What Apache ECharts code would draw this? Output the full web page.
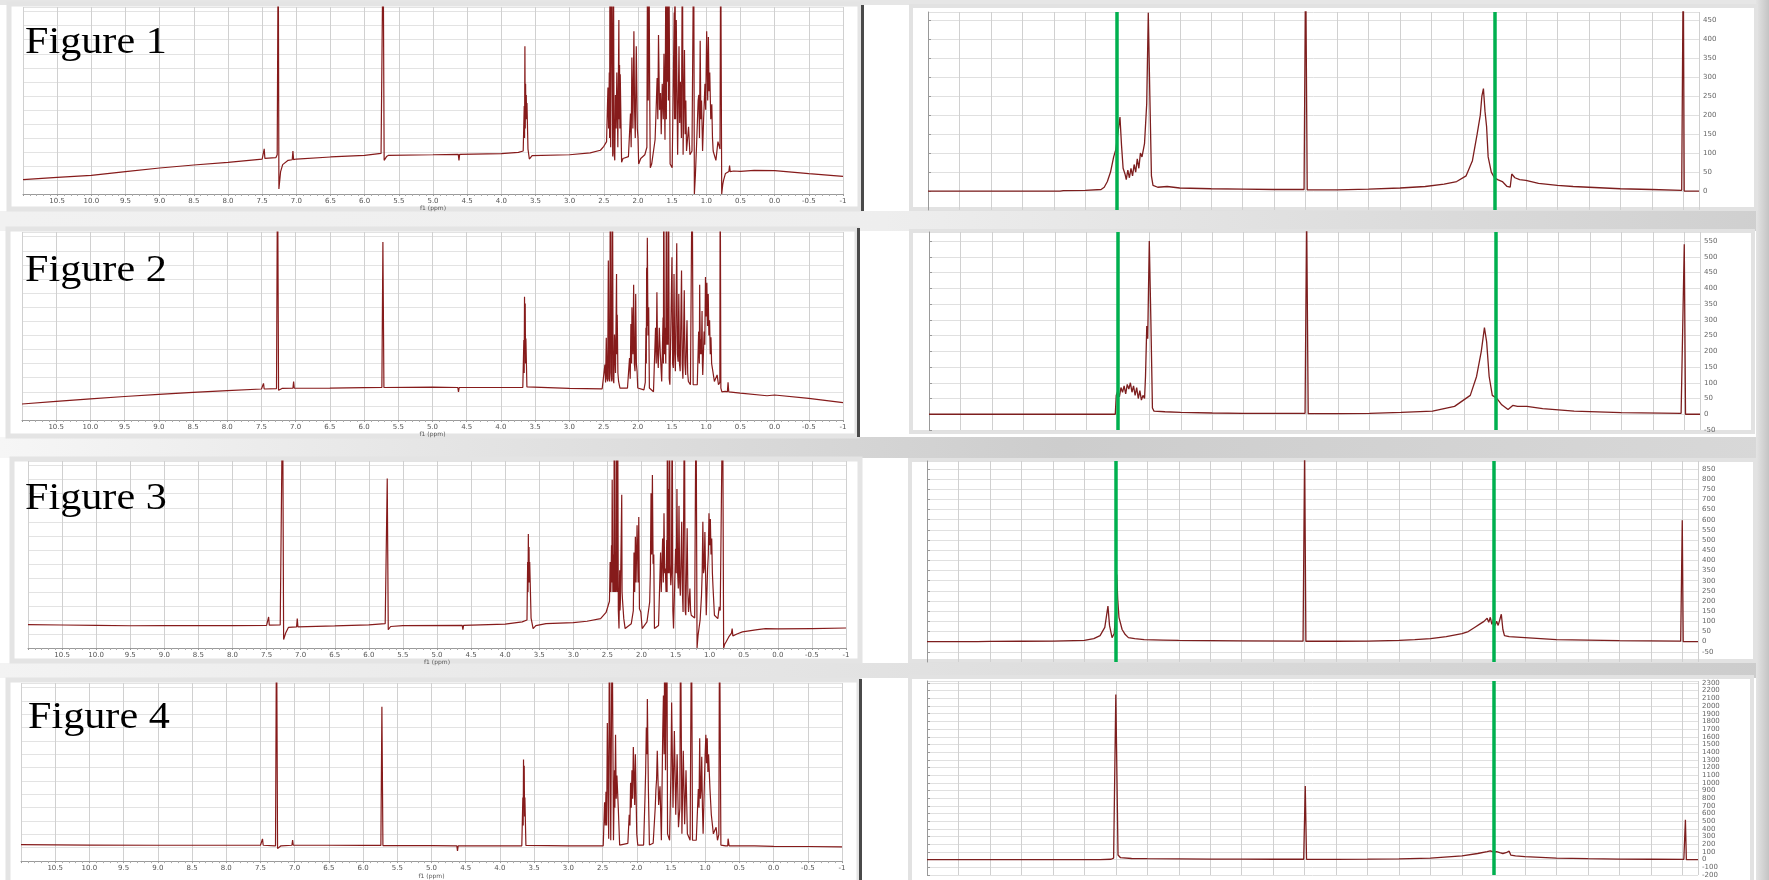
<!DOCTYPE html>
<html><head><meta charset="utf-8">
<script src="https://cdn.jsdelivr.net/npm/echarts@6/dist/echarts.min.js"></script>
<style>html,body{margin:0;padding:0;background:#fff}#c{width:1769px;height:880px}</style>
</head><body><div id="c"></div>
<script>
// ---------- DATA ----------
const figureLabels = ['Figure 1', 'Figure 2', 'Figure 3', 'Figure 4'];
const ppmAxisName = 'f1 (ppm)';

// 1H spectra (left): [ppm, relative intensity], values above 100 run off the top of the plot
const spectrum1 = [[11.0,7.7],[10.5,8.9],[10.0,10.0],[9.5,12.0],[9.0,13.9],[8.5,15.5],[8.0,16.9],[7.5,18.7],[7.48,19],[7.47,24.2],[7.46,19],[7.3,19.4],[7.28,21],[7.265,140],[7.255,2.7],[7.23,12],[7.2,15.7],[7.12,18],[7.06,18.3],[7.05,23],[7.04,18.4],[7.0,18.7],[6.5,19.8],[6.0,20.7],[5.76,21.7],[5.73,140],[5.715,18],[5.68,20],[5.65,20.7],[5.0,21],[4.63,21.2],[4.62,18],[4.61,21.2],[4.0,21.6],[3.75,22.3],[3.68,23],[3.665,47],[3.66,30],[3.655,79],[3.65,35],[3.645,59],[3.64,40],[3.635,53],[3.63,40],[3.625,48.7],[3.61,24],[3.59,18.7],[3.55,20.5],[3.0,21],[2.7,22],[2.55,23.4],
[2.5,25.5],[2.46,28],[2.44,57],[2.43,35],[2.42,65],[2.415,30],[2.41,140],[2.40,25],[2.39,140],[2.37,20],[2.36,140],[2.35,22],[2.34,18],[2.33,53],[2.32,35],[2.31,65],[2.295,25],[2.28,93],[2.275,40],[2.27,69],[2.265,35],[2.26,64],[2.24,17],[2.22,19],[2.14,20],[2.11,43],[2.10,25],[2.09,73],[2.075,35],[2.06,87],[2.05,45],[2.04,30],[2.025,79],[2.01,35],[2.0,30],[1.99,16],[1.96,19],[1.90,21],[1.87,25],[1.86,140],[1.85,50],[1.84,140],[1.83,60],[1.82,14],[1.80,16],[1.75,29],[1.735,45],[1.72,62],[1.71,40],[1.70,85],[1.685,45],[1.67,54],[1.66,32],[1.645,59],[1.63,40],[1.62,75],[1.605,29],[1.59,140],[1.585,40],[1.58,140],[1.57,60],[1.56,140],[1.555,50],[1.55,140],[1.53,16],[1.50,14],[1.47,97],[1.465,40],[1.46,140],[1.45,40],[1.44,93],[1.42,21],[1.40,79],[1.39,38],[1.38,60],[1.365,30],[1.35,140],[1.34,21],[1.32,77],[1.31,32],[1.30,50],[1.29,23],[1.26,36],[1.24,21],[1.21,23],[1.185,140],[1.175,0],[1.16,10],[1.14,29],[1.12,50],[1.11,53],[1.10,30],[1.09,82],[1.08,40],[1.07,50],[1.055,23],[1.04,40],[1.02,59],[1.01,45],[0.995,87],[0.98,50],[0.97,84],[0.96,55],[0.95,65],[0.935,40],[0.92,48],[0.91,30],[0.90,23],[0.86,18],[0.83,28],[0.81,27],[0.80,24],[0.79,140],[0.775,0],[0.76,5],[0.75,7],[0.72,11],[0.70,11.6],[0.67,12],[0.66,15.2],[0.65,12],[0.6,12.3],[0.5,12.1],[0.3,12.6],[0.0,12.5],[-0.5,10.9],[-1.0,9.4]];

const spectrum2 = [[11.0,8.5],[10.5,9.9],[10.0,11.2],[9.5,12.5],[9.0,13.6],[8.5,14.7],[8.0,15.6],[7.5,16.5],[7.48,16.5],[7.47,19.5],[7.46,16.5],[7.28,16.7],[7.265,140],[7.25,15.8],[7.2,16.8],[7.04,16.9],[7.03,20.4],[7.02,16.9],[6.5,17],[6.0,17.2],[5.74,17.3],[5.725,94.7],[5.71,17.3],[5.0,17.5],[4.63,17.3],[4.62,15],[4.61,17.3],[4.0,17.3],[3.68,17.3],[3.665,42.5],[3.66,25],[3.655,65.5],[3.65,35],[3.645,62],[3.64,30],[3.635,43.4],[3.62,17.6],[3.6,16.9],[3.0,16.8],[2.52,16.6],
[2.48,29.5],[2.47,20],[2.46,43.8],[2.45,22],[2.44,20.5],[2.43,84.8],[2.42,22],[2.41,20.5],[2.40,140],[2.39,25],[2.38,20.5],[2.37,140],[2.36,22],[2.35,19.6],[2.34,45.5],[2.325,25],[2.31,77.7],[2.305,35],[2.30,56],[2.29,25],[2.28,20.5],[2.26,17],[2.15,17],[2.12,33],[2.11,22],[2.10,51],[2.09,30],[2.085,60],[2.07,35],[2.06,72],[2.05,30],[2.04,26],[2.03,67],[2.02,30],[2.01,26],[2.0,17],[1.91,16],[1.89,20],[1.88,49],[1.875,30],[1.87,81],[1.865,50],[1.86,97],[1.85,45],[1.84,60],[1.83,17],[1.77,15],[1.74,49],[1.73,30],[1.72,68],[1.71,35],[1.70,27.7],[1.685,49],[1.67,35],[1.65,20.5],[1.63,54.5],[1.625,30],[1.62,140],[1.61,35],[1.60,49],[1.59,30],[1.58,140],[1.575,40],[1.57,58],[1.56,40],[1.55,140],[1.54,22],[1.53,18.75],[1.51,18.75],[1.50,86.6],[1.49,30],[1.48,27.7],[1.47,77.7],[1.46,35],[1.45,26],[1.43,94],[1.42,35],[1.41,31],[1.40,67],[1.39,30],[1.38,26],[1.36,79.5],[1.35,30],[1.34,22],[1.32,69],[1.31,30],[1.30,24],[1.28,53],[1.27,25],[1.26,20.5],[1.23,18.75],[1.205,140],[1.19,18.75],[1.13,18.75],[1.11,47],[1.10,30],[1.095,72],[1.085,35],[1.08,43],[1.07,35],[1.06,58],[1.055,30],[1.05,24],[1.03,47],[1.02,40],[1.01,76],[1.0,55],[0.99,73],[0.98,50],[0.97,67],[0.96,45],[0.95,53],[0.94,35],[0.93,44],[0.92,30],[0.91,27.7],[0.88,20.5],[0.84,24],[0.82,18.75],[0.80,20],[0.795,140],[0.785,17],[0.77,15],[0.72,15.2],[0.69,15],[0.68,20],[0.67,15],[0.5,14.3],[0.11,12.9],[0.0,13.3],[-0.5,11.5],[-1.0,9.2]];

const spectrum3 = [[11.0,12.5],[10.5,12.3],[10.0,12.1],[9.5,11.9],[9.0,12],[8.5,12],[8.0,12],[7.5,12.1],[7.48,12.2],[7.47,16.6],[7.46,12.2],[7.3,12.3],[7.28,13],[7.265,140],[7.25,4.5],[7.22,8],[7.18,11],[7.06,11.3],[7.05,15.7],[7.04,11.3],[6.5,11.8],[6.0,12.4],[5.76,13],[5.73,90.7],[5.715,9.8],[5.68,11.5],[5.5,12],[4.63,12.1],[4.62,9.8],[4.61,12.1],[4.0,12.8],[3.75,14],[3.68,15],[3.67,46],[3.665,30],[3.66,61],[3.655,35],[3.65,54],[3.645,35],[3.64,46],[3.62,16],[3.59,10.4],[3.55,12],[3.4,13],[3.0,13.6],[2.8,14.3],[2.6,15.7],[2.52,19],
[2.50,20],[2.47,25],[2.46,46],[2.45,30],[2.44,55],[2.435,35],[2.43,90],[2.42,30],[2.41,50],[2.405,30],[2.40,140],[2.39,30],[2.38,51],[2.375,30],[2.37,140],[2.365,35],[2.355,30],[2.35,140],[2.34,20],[2.33,10.4],[2.32,41.6],[2.315,20],[2.31,24.6],[2.29,82],[2.285,30],[2.28,26.4],[2.26,15.7],[2.24,10.4],[2.15,13],[2.12,20],[2.11,51],[2.10,30],[2.09,59.5],[2.08,35],[2.065,65.7],[2.05,35],[2.04,70],[2.03,21],[2.01,19.3],[1.99,10.4],[1.92,14],[1.88,24.6],[1.87,40],[1.86,82.7],[1.85,50],[1.84,92.5],[1.83,45],[1.82,50],[1.81,10.4],[1.75,12],[1.72,51],[1.71,30],[1.69,58.6],[1.68,35],[1.67,72],[1.66,40],[1.65,42.5],[1.64,30],[1.63,57.7],[1.625,30],[1.62,140],[1.61,40],[1.60,85],[1.595,40],[1.59,140],[1.58,45],[1.57,33.6],[1.56,40],[1.55,140],[1.54,20],[1.53,10.4],[1.51,9.5],[1.50,53],[1.49,40],[1.48,85],[1.47,40],[1.46,31.8],[1.45,76],[1.44,35],[1.43,28],[1.41,67.5],[1.40,30],[1.39,19.3],[1.37,140],[1.36,20],[1.35,17.5],[1.33,64],[1.32,30],[1.31,19.3],[1.29,31.8],[1.28,20],[1.27,17.5],[1.22,16],[1.20,140],[1.185,0],[1.17,6.8],[1.14,15],[1.12,28],[1.11,40],[1.10,67.5],[1.09,40],[1.08,42.5],[1.07,62],[1.06,40],[1.05,17.5],[1.04,30],[1.03,42.5],[1.02,50],[1.01,72],[1.0,55],[0.99,69],[0.98,50],[0.97,58.6],[0.96,40],[0.95,31.8],[0.93,17.5],[0.88,15.7],[0.86,22],[0.845,20],[0.83,21],[0.81,140],[0.795,0],[0.78,2],[0.76,3.2],[0.72,5.9],[0.68,8],[0.67,10.4],[0.66,6.5],[0.6,7.5],[0.52,8.6],[0.3,9.8],[0.18,10.4],[0.0,10.2],[-0.5,10.4],[-1.0,10.7]];

const spectrum4 = [[11.0,9.3],[10.5,9.1],[10.0,9.0],[9.0,8.9],[8.0,8.9],[7.5,8.9],[7.48,8.9],[7.47,12.5],[7.46,8.9],[7.28,8.6],[7.265,140],[7.25,7.1],[7.2,8.6],[7.04,8.9],[7.03,11.8],[7.02,8.9],[6.5,8.9],[6.0,8.8],[5.74,8.8],[5.725,86.6],[5.71,8.7],[5.0,8.7],[4.63,8.6],[4.62,5.7],[4.61,8.6],[4.0,8.6],[3.68,8.6],[3.665,35.7],[3.66,20],[3.655,57],[3.65,30],[3.645,53.6],[3.64,25],[3.635,35.7],[3.62,8.8],[3.6,8.5],[3.0,8.5],[2.52,8.6],
[2.49,8.6],[2.47,33],[2.46,20],[2.45,39],[2.44,20],[2.43,77.5],[2.41,12.6],[2.40,140],[2.38,11.7],[2.36,140],[2.34,11.7],[2.325,51],[2.32,30],[2.31,71],[2.30,35],[2.29,48],[2.27,30],[2.25,9],[2.13,10],[2.11,26],[2.10,20],[2.09,44],[2.08,30],[2.07,51],[2.06,35],[2.05,64],[2.03,31.5],[2.02,60],[2.0,15.3],[1.985,9],[1.90,9],[1.88,35],[1.87,50],[1.86,75],[1.85,60],[1.845,91],[1.83,40.5],[1.815,9],[1.76,10],[1.73,30],[1.72,40],[1.71,46],[1.70,62],[1.68,31.5],[1.66,42],[1.64,11.7],[1.62,73],[1.61,93],[1.60,60],[1.59,140],[1.58,51],[1.56,140],[1.55,15.3],[1.52,11.7],[1.50,51],[1.49,89],[1.47,30],[1.45,73],[1.43,26],[1.41,60],[1.39,19],[1.37,30],[1.36,140],[1.34,15.3],[1.32,62],[1.30,20.7],[1.28,51],[1.26,15.3],[1.22,11.7],[1.20,140],[1.185,11.7],[1.13,11.7],[1.10,40.5],[1.09,30],[1.08,69],[1.07,35],[1.06,40],[1.05,58.6],[1.04,30],[1.03,15.3],[1.01,46],[1.0,60],[0.99,71],[0.98,55],[0.97,69],[0.96,50],[0.95,60],[0.93,40.5],[0.91,26],[0.88,15.3],[0.84,19],[0.82,11.7],[0.80,15],[0.79,140],[0.77,9],[0.70,8.6],[0.67,8.6],[0.665,12.6],[0.65,8.6],[0.28,8.5],[0.0,8.3],[-0.5,8.2],[-1.0,8.0]];

// right-hand traces: [position, signal]
const trace1 = [[0,0],[4.2,0],[4.3,1],[5.0,2],[5.5,4],[5.6,10],[5.7,25],[5.8,50],[5.9,90],[5.97,110],[6.03,150],[6.1,195],[6.15,120],[6.2,60],[6.26,45],[6.3,30],[6.35,55],[6.4,35],[6.45,60],[6.5,40],[6.55,70],[6.6,50],[6.65,85],[6.7,60],[6.75,100],[6.8,90],[6.88,125],[6.95,230],[7.0,470],[7.05,250],[7.1,40],[7.15,15],[7.3,10],[7.6,12],[8.0,8],[9,6],[10,5],[11,4],[11.95,4],[12,620],[12.05,3],[13,3],[14,5],[15,8],[15.8,12],[16.4,18],[16.8,25],[17.1,40],[17.3,80],[17.45,150],[17.55,200],[17.6,250],[17.65,270],[17.7,210],[17.75,170],[17.8,90],[17.9,50],[18.0,35],[18.1,30],[18.25,25],[18.4,12],[18.5,10],[18.55,45],[18.65,35],[18.8,30],[19,28],[19.4,20],[20,15],[20.5,12],[21,10],[22,6],[23,4],[23.95,2],[24.0,620],[24.03,0],[24.5,0]];
const trace2 = [[0,0],[5.92,0],[5.95,60],[6.0,75],[6.05,55],[6.1,85],[6.15,70],[6.2,90],[6.25,65],[6.3,95],[6.35,80],[6.4,100],[6.45,70],[6.5,90],[6.55,60],[6.6,85],[6.65,50],[6.7,75],[6.75,45],[6.8,60],[6.85,50],[6.88,120],[6.92,280],[6.95,240],[7.0,550],[7.05,300],[7.1,20],[7.15,10],[7.5,8],[8,6],[9,4],[10,3],[11.95,3],[12,640],[12.05,2],[13,2],[14,3],[15,6],[16,10],[16.7,25],[17.2,60],[17.4,120],[17.55,200],[17.65,275],[17.72,230],[17.8,120],[17.9,60],[18.05,50],[18.2,30],[18.4,15],[18.55,28],[18.7,25],[19,25],[19.5,18],[20.5,10],[22,5],[23.9,3],[24.0,540],[24.04,0],[24.5,0]];
const trace3 = [[0,0],[1.6,0],[2,1],[3,2],[4,3],[5,6],[5.3,15],[5.5,30],[5.65,70],[5.75,175],[5.8,80],[5.88,20],[5.95,40],[6.0,160],[6.03,330],[6.06,210],[6.1,120],[6.2,60],[6.3,35],[6.4,20],[6.6,15],[6.9,10],[7.5,8],[8,6],[9,5],[10,4],[11.95,3],[12.0,950],[12.04,2],[13,2],[14,3],[15,6],[15.5,10],[16,15],[16.5,25],[17,40],[17.2,50],[17.4,70],[17.6,90],[17.7,100],[17.8,115],[17.85,95],[17.9,120],[17.95,85],[18.0,110],[18.05,80],[18.1,100],[18.15,80],[18.25,135],[18.3,60],[18.35,30],[18.5,25],[19,20],[20,10],[21,8],[22,5],[23.95,3],[24.0,597],[24.03,0],[24.5,0]];
const trace4 = [[0,0],[5.5,0],[5.85,5],[5.93,20],[6.0,2150],[6.07,60],[6.15,25],[6.5,15],[7,12],[8,10],[9,8],[10,6],[11,5],[11.97,5],[12.02,960],[12.06,4],[13,4],[14,6],[15,10],[16,20],[17,50],[17.5,80],[17.8,105],[17.9,115],[18.0,100],[18.1,105],[18.2,90],[18.3,80],[18.4,90],[18.5,110],[18.55,60],[18.7,50],[19,40],[20,20],[21,12],[22,8],[23,5],[24.05,4],[24.1,520],[24.13,0],[24.5,0]];

const greenLines = [[6, 18], [6, 18], [6, 18], [18]];
const traceScales = [[-50, 472, 50], [-50, 579, 50], [-100, 889, 50], [-200, 2326, 100]];
const showLowestLabel = [false, true, false, true];

// ---------- LAYOUT ----------
const spectra = [spectrum1, spectrum2, spectrum3, spectrum4];
const traces = [trace1, trace2, trace3, trace4];
const leftGrids = [
  {left: 23, top: 7, width: 820, height: 187},
  {left: 22, top: 232, width: 821, height: 188},
  {left: 28, top: 461, width: 818, height: 187},
  {left: 21, top: 683, width: 821, height: 187}
];
const rightGrids = [
  {left: 928, top: 12, width: 771, height: 198},
  {left: 929, top: 232, width: 771, height: 198},
  {left: 927, top: 461, width: 771, height: 201},
  {left: 927, top: 681, width: 771, height: 194}
];
const labelPos = [[25, 25], [25, 253], [25, 481], [28, 700]];

const LINE = '#861b1b';
const grid = [], xAxis = [], yAxis = [], series = [];

leftGrids.forEach((g, i) => {
  grid.push(Object.assign({containLabel: false}, g));
  xAxis.push({
    gridIndex: grid.length - 1, type: 'value', min: -1, max: 11, interval: 0.5, inverse: true,
    axisLine: {show: true, lineStyle: {color: '#9a9a9a', width: 1}},
    axisTick: {show: true, length: 2, lineStyle: {color: '#999'}},
    minorTick: {show: true, splitNumber: 5, length: 2, lineStyle: {color: '#aaa'}},
    axisLabel: {fontSize: 7, color: '#555', margin: 4, fontFamily: 'DejaVu Sans', showMaxLabel: false,
      formatter: v => (Math.abs(v + 1) < 1e-9 ? '-1' : v.toFixed(1))},
    splitLine: {show: true, lineStyle: {color: '#d0d0d0', width: 1}},
    name: ppmAxisName, nameLocation: 'middle', nameGap: 9,
    nameTextStyle: {fontSize: 6, color: '#555', fontFamily: 'DejaVu Sans'}
  });
  yAxis.push({
    gridIndex: grid.length - 1, type: 'value', min: 0, max: 100, interval: 7.5,
    axisLine: {show: false}, axisTick: {show: false}, axisLabel: {show: false},
    splitLine: {show: true, lineStyle: {color: '#e3e3e3', width: 1}}
  });
  series.push({
    type: 'line', xAxisIndex: grid.length - 1, yAxisIndex: grid.length - 1,
    data: spectra[i], showSymbol: false, symbol: 'none', clip: true, silent: true,
    lineStyle: {color: LINE, width: 1.2}, z: 3
  });
});

rightGrids.forEach((g, i) => {
  grid.push(Object.assign({containLabel: false}, g));
  const [mn, mx, step] = traceScales[i];
  xAxis.push({
    gridIndex: grid.length - 1, type: 'value', min: 0, max: 24.5, interval: 1,
    axisLine: {show: false}, axisTick: {show: false}, axisLabel: {show: false},
    splitLine: {show: true, lineStyle: {color: '#d0d0d0', width: 1}}
  });
  yAxis.push({
    gridIndex: grid.length - 1, type: 'value', position: 'right', min: mn, max: mx, interval: step,
    axisLine: {show: true, lineStyle: {color: '#999', width: 1}},
    axisTick: {show: true, length: 3, lineStyle: {color: '#999'}},
    axisLabel: {fontSize: 7, color: '#666', margin: 4, fontFamily: 'DejaVu Sans',
      showMaxLabel: false, showMinLabel: showLowestLabel[i], formatter: v => String(v)},
    splitLine: {show: true, lineStyle: {color: '#e0e0e0', width: 1}}
  });
  series.push({
    type: 'line', xAxisIndex: grid.length - 1, yAxisIndex: grid.length - 1,
    data: traces[i], showSymbol: false, symbol: 'none', clip: true, silent: true,
    lineStyle: {color: '#7d1e1e', width: 1.3}, z: 3,
    markLine: {
      symbol: 'none', silent: true, label: {show: false}, animation: false,
      lineStyle: {color: '#00b04f', width: 3.5, type: 'solid'},
      data: greenLines[i].map(v => ({xAxis: v}))
    }
  });
});

// panel frames and page shading
const graphics = [
  {type: 'rect', shape: {x: 0, y: 0, width: 1769, height: 5}, style: {fill: '#e6e6e6'}, z: -5},
  {type: 'rect', shape: {x: 0, y: 211, width: 1769, height: 20},
    style: {fill: new echarts.graphic.LinearGradient(0, 0, 1, 0, [{offset: 0, color: '#f1f1f1'}, {offset: 0.5, color: '#eeeeee'}, {offset: 1, color: '#cfcfcf'}])}, z: -5},
  {type: 'rect', shape: {x: 0, y: 437, width: 1769, height: 21},
    style: {fill: new echarts.graphic.LinearGradient(0, 0, 1, 0, [{offset: 0, color: '#f6f6f6'}, {offset: 0.6, color: '#cdcdcd'}, {offset: 1, color: '#d8d8d8'}])}, z: -5},
  {type: 'rect', shape: {x: 0, y: 663, width: 1769, height: 15},
    style: {fill: new echarts.graphic.LinearGradient(0, 0, 1, 0, [{offset: 0, color: '#f3f3f3'}, {offset: 0.5, color: '#e2e2e2'}, {offset: 1, color: '#cccccc'}])}, z: -5},
  {type: 'rect', shape: {x: 1756, y: 0, width: 13, height: 880},
    style: {fill: new echarts.graphic.LinearGradient(0, 0, 1, 0, [{offset: 0, color: '#e4e4e4'}, {offset: 1, color: '#c4c4c4'}])}, z: -5},
  {type: 'rect', shape: {x: 9, y: 4, width: 851, height: 205}, style: {fill: 'none', stroke: '#e4e4e4', lineWidth: 5}, z: -4},
  {type: 'rect', shape: {x: 8, y: 229, width: 849, height: 207}, style: {fill: 'none', stroke: '#e4e4e4', lineWidth: 5}, z: -4},
  {type: 'rect', shape: {x: 12, y: 459, width: 848, height: 202}, style: {fill: 'none', stroke: '#e4e4e4', lineWidth: 5}, z: -4},
  {type: 'rect', shape: {x: 8, y: 680, width: 851, height: 205}, style: {fill: 'none', stroke: '#e4e4e4', lineWidth: 5}, z: -4},
  {type: 'rect', shape: {x: 861, y: 5, width: 3, height: 206}, style: {fill: '#4a4a4a'}, z: -3},
  {type: 'rect', shape: {x: 857, y: 228, width: 3, height: 209}, style: {fill: '#4a4a4a'}, z: -3},
  {type: 'rect', shape: {x: 859, y: 679, width: 3, height: 201}, style: {fill: '#4a4a4a'}, z: -3},
  {type: 'rect', shape: {x: 911, y: 6, width: 845, height: 203}, style: {fill: 'none', stroke: '#e2e2e2', lineWidth: 4}, z: -4},
  {type: 'rect', shape: {x: 911, y: 231, width: 842, height: 201}, style: {fill: 'none', stroke: '#e2e2e2', lineWidth: 4}, z: -4},
  {type: 'rect', shape: {x: 910, y: 460, width: 845, height: 201}, style: {fill: 'none', stroke: '#e2e2e2', lineWidth: 4}, z: -4},
  {type: 'rect', shape: {x: 910, y: 677, width: 842, height: 206}, style: {fill: 'none', stroke: '#e2e2e2', lineWidth: 4}, z: -4}
];
figureLabels.forEach((t, i) => {
  graphics.push({
    type: 'text', x: labelPos[i][0], y: labelPos[i][1], scaleX: 1.14, scaleY: 1, z: 100,
    style: {text: t, fontSize: 37, fontFamily: '"Liberation Serif", "Times New Roman", serif', fill: '#000', verticalAlign: 'top'}
  });
});

const chart = echarts.init(document.getElementById('c'), null, {renderer: 'canvas'});
chart.setOption({
  backgroundColor: '#ffffff',
  animation: false,
  grid, xAxis, yAxis, series,
  graphic: {elements: graphics}
});
</script></body></html>
